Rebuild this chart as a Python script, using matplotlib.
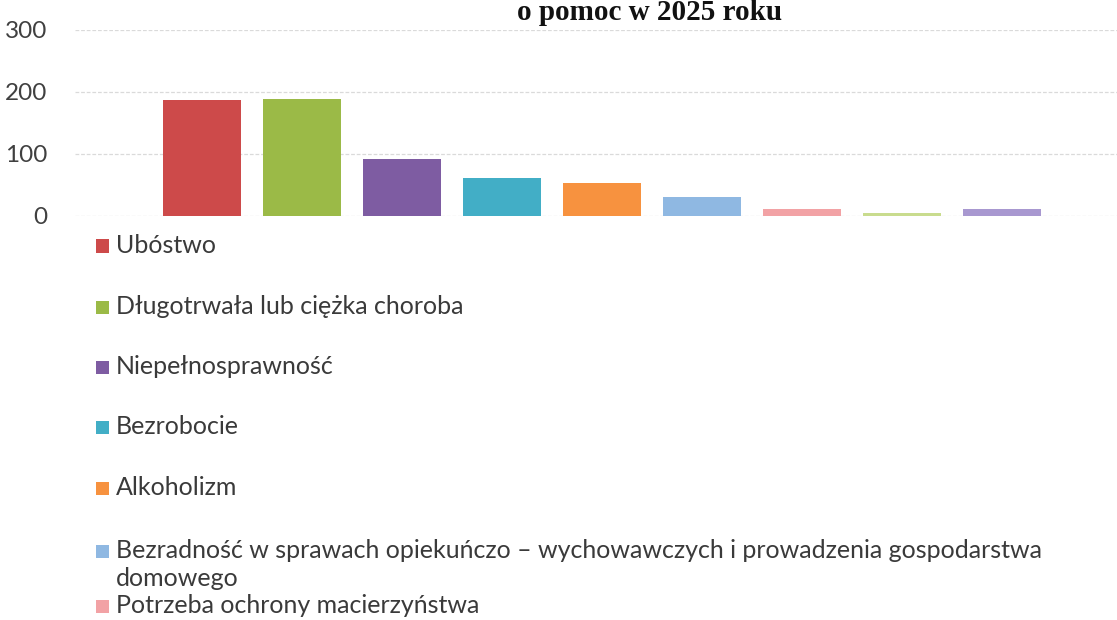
import matplotlib
matplotlib.use("Agg")
import matplotlib.pyplot as plt
from matplotlib.patches import Rectangle
import numpy as np

# ---- data ----
categories = [
    "Ubóstwo",
    "Długotrwała lub ciężka choroba",
    "Niepełnosprawność",
    "Bezrobocie",
    "Alkoholizm",
    "Bezradność w sprawach opiekuńczo – wychowawczych i prowadzenia gospodarstwa\ndomowego",
    "Potrzeba ochrony macierzyństwa",
    "Przemoc w rodzinie",
    "Bezdomność",
]
values = [187, 189, 92, 62, 53, 30, 11, 5, 12]
y_ticks = [0, 100, 200, 300]
title_text = "o pomoc w 2025 roku"
legend_count = 7  # entries visible in the reference

# ---- styles ----
colors = ["#CD4A4A", "#9BBA47", "#7E5CA2", "#42AEC6", "#F7923F",
          "#8FB8E2", "#F2A2A5", "#C9DC8E", "#A898D0"]
W, H = 1117, 620
FONT = "Lato"
TXT = "#3a3a3a"

fig = plt.figure(figsize=(W / 100, H / 100), dpi=100)
fig.patch.set_facecolor("white")

ax_left, ax_right = 75, 1117
y0_px, y300_px = 216, 30
ax = fig.add_axes([ax_left / W, 1 - y0_px / H, (ax_right - ax_left) / W,
                   (y0_px - y300_px) / H])

x = np.arange(len(values))
ax.bar(x, values, width=0.78, color=colors, zorder=3)
ax.set_xlim(-1.27, 9.15)
ax.set_ylim(0, 300)
ax.set_yticks(y_ticks)
ax.set_yticklabels([str(t) for t in y_ticks], fontfamily=FONT, fontsize=17.5,
                   color="#404040")
ax.tick_params(axis="y", length=0, pad=20)
ax.set_xticks([])
for s in ax.spines.values():
    s.set_visible(False)
ax.yaxis.grid(True, color="#dadada", linewidth=0.9, linestyle=(0, (3, 1.5)),
              zorder=0)
ax.set_axisbelow(True)
ax.patch.set_alpha(0)

# title (only the visible second line)
fig.text(650 / W, 1 - 13 / H, title_text, ha="center", va="center",
         fontfamily="Liberation Serif", fontweight="bold", fontsize=21,
         color="#111111")

# legend, drawn by hand to follow the reference's spacing
legend_centers_px = [246, 307, 367, 427, 488, 551, 606]
wrap_step_px = 28
sq = 13
for i in range(legend_count):
    yc = legend_centers_px[i]
    fig.add_artist(Rectangle((96 / W, 1 - (yc + sq / 2) / H), sq / W, sq / H,
                             transform=fig.transFigure, facecolor=colors[i],
                             edgecolor="none"))
    for k, line in enumerate(categories[i].split("\n")):
        fig.text(116 / W, 1 - (yc + 7 + k * wrap_step_px) / H, line,
                 ha="left", va="baseline", fontfamily=FONT, fontsize=18,
                 color=TXT)

fig.savefig("out.png", dpi=100)
